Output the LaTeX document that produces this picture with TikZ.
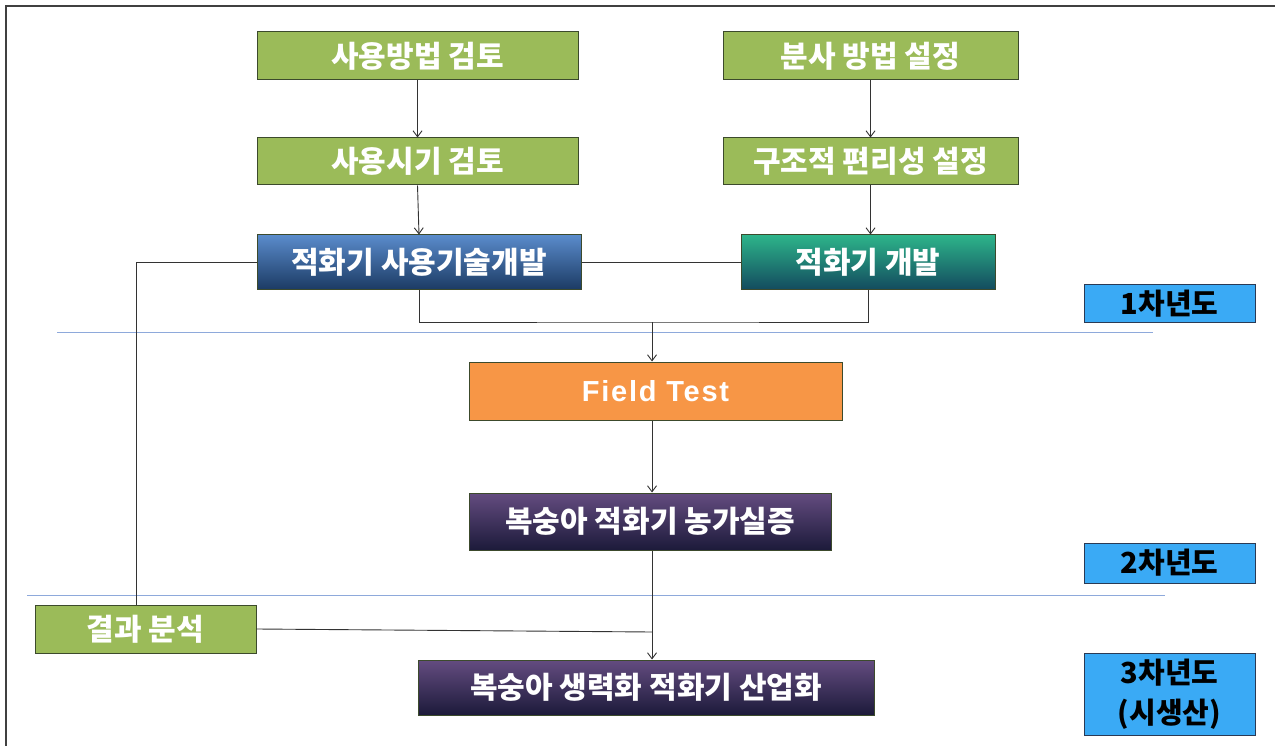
\documentclass[tikz,border=0pt]{standalone}
\usepackage{fontspec}
\newfontfamily\kr{Noto Sans CJK KR}
\newfontfamily\lat{Liberation Sans}[LetterSpace=6]
\usetikzlibrary{arrows.meta}
\definecolor{grn}{HTML}{9BBB59}
\definecolor{grnb}{HTML}{3C4A2C}
\definecolor{orng}{HTML}{F79646}
\definecolor{yrb}{HTML}{3AAAF5}
\definecolor{ln}{HTML}{333333}
\definecolor{bl}{HTML}{8EA9DB}
\definecolor{frm}{HTML}{404040}
\definecolor{HTML5A8BCB}{HTML}{5A8BCB}
\definecolor{HTML1B3A63}{HTML}{1B3A63}
\definecolor{HTML2DB48A}{HTML}{2DB48A}
\definecolor{HTML134A5E}{HTML}{134A5E}
\definecolor{HTML644C80}{HTML}{644C80}
\definecolor{HTML1C1A3A}{HTML}{1C1A3A}
\definecolor{HTML2A3A55}{HTML}{2A3A55}
\tikzset{
  box/.style={draw=grnb, line width=1pt, minimum width=321pt, minimum height=48pt, inner sep=0pt, font=\kr\bfseries\fontsize{30}{34}\selectfont, text=white},
  gbox/.style={box, fill=grn},
  bluebox/.style={box, top color=HTML5A8BCB, bottom color=HTML1B3A63},
  tealbox/.style={box, top color=HTML2DB48A, bottom color=HTML134A5E},
  purpbox/.style={box, top color=HTML644C80, bottom color=HTML1C1A3A},
  yrbox/.style={draw=HTML2A3A55, line width=1pt, fill=yrb, minimum width=171pt, inner sep=0pt, font=\kr\bfseries\fontsize{29}{40}\selectfont, text=black, align=center},
  conn/.style={draw=ln, line width=0.9pt},
  arr/.style={conn, -{Straight Barb[length=6pt,width=9pt]}},
  sep/.style={draw=bl, line width=1pt}
}
\begin{document}
\begin{tikzpicture}[x=1pt,y=-1pt]
\useasboundingbox (0,0) rectangle (1275,746);
\fill[white] (0,0) rectangle (1275,746);
% frame
\draw[frm, line width=2.6pt] (6,746) -- (6,6) -- (1275,6);
% separators
\draw[sep] (57,332) -- (1153,332);
\draw[sep] (27,595) -- (1165,595);
% boxes
\node[gbox] (b1) at (417.5,56) {사용방법 검토};
\node[gbox, minimum width=295pt] (b2) at (870.5,56) {분사 방법 설정};
\node[gbox, minimum height=47pt] (b3) at (417.5,161.5) {사용시기 검토};
\node[gbox, minimum width=295pt, minimum height=47pt] (b4) at (870.5,161.5) {구조적 편리성 설정};
\node[bluebox, minimum width=324pt, minimum height=55pt] (b5) at (419,262.5) {적화기 사용기술개발};
\node[tealbox, minimum width=254pt, minimum height=55pt] (b6) at (868,262.5) {적화기 개발};
\node[box, fill=orng, minimum width=373pt, minimum height=58pt, font=\lat\bfseries\fontsize{29}{32}\selectfont] (b7) at (655.5,391) {Field Test};
\node[purpbox, minimum width=362pt, minimum height=57pt] (b8) at (650,521.5) {복숭아 적화기 농가실증};
\node[gbox, minimum width=221pt] (b9) at (145.5,629) {결과 분석};
\node[purpbox, minimum width=456pt, minimum height=55pt] (b10) at (646,687.5) {복숭아 생력화 적화기 산업화};
\node[yrbox, minimum height=37pt] (y1) at (1169.5,303.5) {1차년도};
\node[yrbox, minimum height=40pt] (y2) at (1169.5,563) {2차년도};
\node[yrbox, minimum height=82pt] (y3) at (1169.5,694) {3차년도\\(시생산)};
% connectors
\coordinate (m) at (652,322);
\coordinate (j) at (652,632);
\draw[arr] (b1.south) -- (b3.north);
\draw[arr] (b2.south) -- (b4.north);
\draw[arr] (b3.south) -- (b5.north);
\draw[arr] (b4.south) -- (b4.south |- b6.north);
\draw[conn] (b5.east) -- (b6.west);
\draw[conn] (b5.south) |- (m) -| (b6.south);
\draw[arr] (m) -- (m |- b7.north);
\draw[arr] (b7.south -| m) -- (m |- b8.north);
\draw[arr] (b8.south -| m) -- (m |- b10.north);
\draw[conn] (b5.west) -| ([xshift=-9.5pt]b9.north);
\draw[conn] (b9.east) -- (j);
\end{tikzpicture}
\end{document}
